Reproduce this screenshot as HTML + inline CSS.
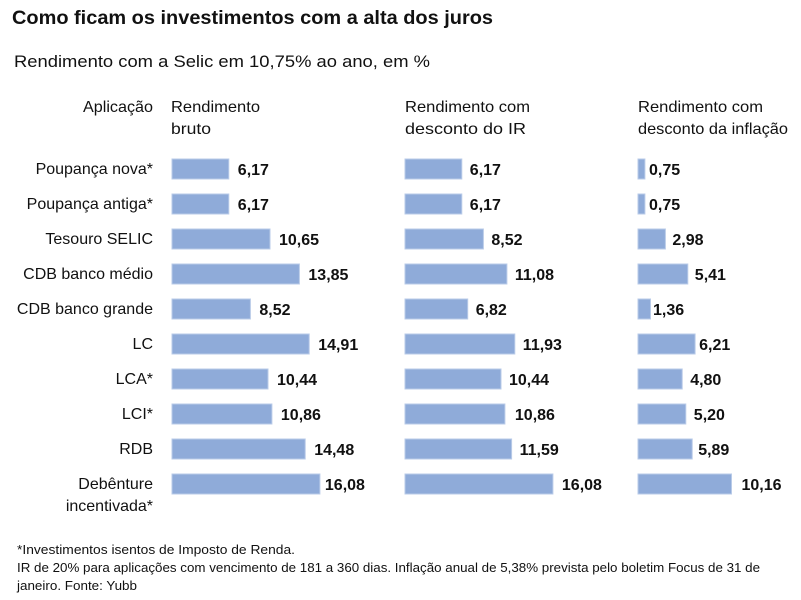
<!DOCTYPE html>
<html><head><meta charset="utf-8"><style>
html,body{margin:0;padding:0;background:#fff}
svg{display:block}
text{font-family:"Liberation Sans",sans-serif;fill:#111}
.b{font-weight:bold}
.r{text-anchor:end}
rect{fill:#8fabd9;stroke:#b9cbe8;stroke-width:1}
</style></head><body>
<svg width="801" height="600" viewBox="0 0 801 600" xmlns="http://www.w3.org/2000/svg">
<text x="12" y="24" class="b" font-size="19" textLength="481" lengthAdjust="spacingAndGlyphs">Como ficam os investimentos com a alta dos juros</text>
<text x="14" y="67" font-size="17" textLength="416" lengthAdjust="spacingAndGlyphs">Rendimento com a Selic em 10,75% ao ano, em %</text>
<g font-size="16">
<text x="153" y="112" class="r" textLength="70" lengthAdjust="spacingAndGlyphs">Aplicação</text>
<text x="171" y="112" textLength="89" lengthAdjust="spacingAndGlyphs">Rendimento</text>
<text x="171" y="134" textLength="40" lengthAdjust="spacingAndGlyphs">bruto</text>
<text x="405" y="112" textLength="125" lengthAdjust="spacingAndGlyphs">Rendimento com</text>
<text x="405" y="134" textLength="121" lengthAdjust="spacingAndGlyphs">desconto do IR</text>
<text x="638" y="112" textLength="125" lengthAdjust="spacingAndGlyphs">Rendimento com</text>
<text x="638" y="134" textLength="150" lengthAdjust="spacingAndGlyphs">desconto da inflação</text>
</g>
<g font-size="16">
<text x="153" y="174" class="r">Poupança nova*</text>
<text x="153" y="209" class="r">Poupança antiga*</text>
<text x="153" y="244" class="r">Tesouro SELIC</text>
<text x="153" y="279" class="r">CDB banco médio</text>
<text x="153" y="314" class="r">CDB banco grande</text>
<text x="153" y="349" class="r">LC</text>
<text x="153" y="384" class="r">LCA*</text>
<text x="153" y="419" class="r">LCI*</text>
<text x="153" y="454" class="r">RDB</text>
<text x="153" y="489" class="r">Debênture</text>
<text x="153" y="511" class="r">incentivada*</text>
</g>
<text x="17" y="554" font-size="13" textLength="278" lengthAdjust="spacingAndGlyphs">*Investimentos isentos de Imposto de Renda.</text>
<text x="17" y="572" font-size="13" textLength="743" lengthAdjust="spacingAndGlyphs">IR de 20% para aplicações com vencimento de 181 a 360 dias. Inflação anual de 5,38% prevista pelo boletim Focus de 31 de</text>
<text x="17" y="590" font-size="13" textLength="120" lengthAdjust="spacingAndGlyphs">janeiro. Fonte: Yubb</text>

<g font-size="16" class="b">
<rect x="172" y="159" width="56.8" height="20"/><text x="237.8" y="175" class="b">6,17</text>
<rect x="172" y="194" width="56.8" height="20"/><text x="237.8" y="210" class="b">6,17</text>
<rect x="172" y="229" width="98" height="20"/><text x="279" y="245" class="b">10,65</text>
<rect x="172" y="264" width="127.4" height="20"/><text x="308.4" y="280" class="b">13,85</text>
<rect x="172" y="299" width="78.4" height="20"/><text x="259.4" y="315" class="b">8,52</text>
<rect x="172" y="334" width="137.2" height="20"/><text x="318.2" y="350" class="b">14,91</text>
<rect x="172" y="369" width="96" height="20"/><text x="277" y="385" class="b">10,44</text>
<rect x="172" y="404" width="99.9" height="20"/><text x="280.9" y="420" class="b">10,86</text>
<rect x="172" y="439" width="133.2" height="20"/><text x="314.2" y="455" class="b">14,48</text>
<rect x="172" y="474" width="147.9" height="20"/><text x="324.9" y="490" class="b">16,08</text>

<rect x="405" y="159" width="56.8" height="20"/><text x="469.8" y="175" class="b">6,17</text>
<rect x="405" y="194" width="56.8" height="20"/><text x="469.8" y="210" class="b">6,17</text>
<rect x="405" y="229" width="78.4" height="20"/><text x="491.4" y="245" class="b">8,52</text>
<rect x="405" y="264" width="101.9" height="20"/><text x="514.9" y="280" class="b">11,08</text>
<rect x="405" y="299" width="62.7" height="20"/><text x="475.7" y="315" class="b">6,82</text>
<rect x="405" y="334" width="109.8" height="20"/><text x="522.8" y="350" class="b">11,93</text>
<rect x="405" y="369" width="96" height="20"/><text x="509" y="385" class="b">10,44</text>
<rect x="405" y="404" width="99.9" height="20"/><text x="514.9" y="420" class="b">10,86</text>
<rect x="405" y="439" width="106.6" height="20"/><text x="519.6" y="455" class="b">11,59</text>
<rect x="405" y="474" width="147.9" height="20"/><text x="561.9" y="490" class="b">16,08</text>

<rect x="638" y="159" width="6.9" height="20"/><text x="649" y="175" class="b">0,75</text>
<rect x="638" y="194" width="6.9" height="20"/><text x="649" y="210" class="b">0,75</text>
<rect x="638" y="229" width="27.4" height="20"/><text x="672.4" y="245" class="b">2,98</text>
<rect x="638" y="264" width="49.8" height="20"/><text x="694.8" y="280" class="b">5,41</text>
<rect x="638" y="299" width="12.5" height="20"/><text x="653" y="315" class="b">1,36</text>
<rect x="638" y="334" width="57.1" height="20"/><text x="699.1" y="350" class="b">6,21</text>
<rect x="638" y="369" width="44.2" height="20"/><text x="690.2" y="385" class="b">4,80</text>
<rect x="638" y="404" width="47.8" height="20"/><text x="693.8" y="420" class="b">5,20</text>
<rect x="638" y="439" width="54.2" height="20"/><text x="698.2" y="455" class="b">5,89</text>
<rect x="638" y="474" width="93.5" height="20"/><text x="741.5" y="490" class="b">10,16</text>
</g>
</svg>
</body></html>
